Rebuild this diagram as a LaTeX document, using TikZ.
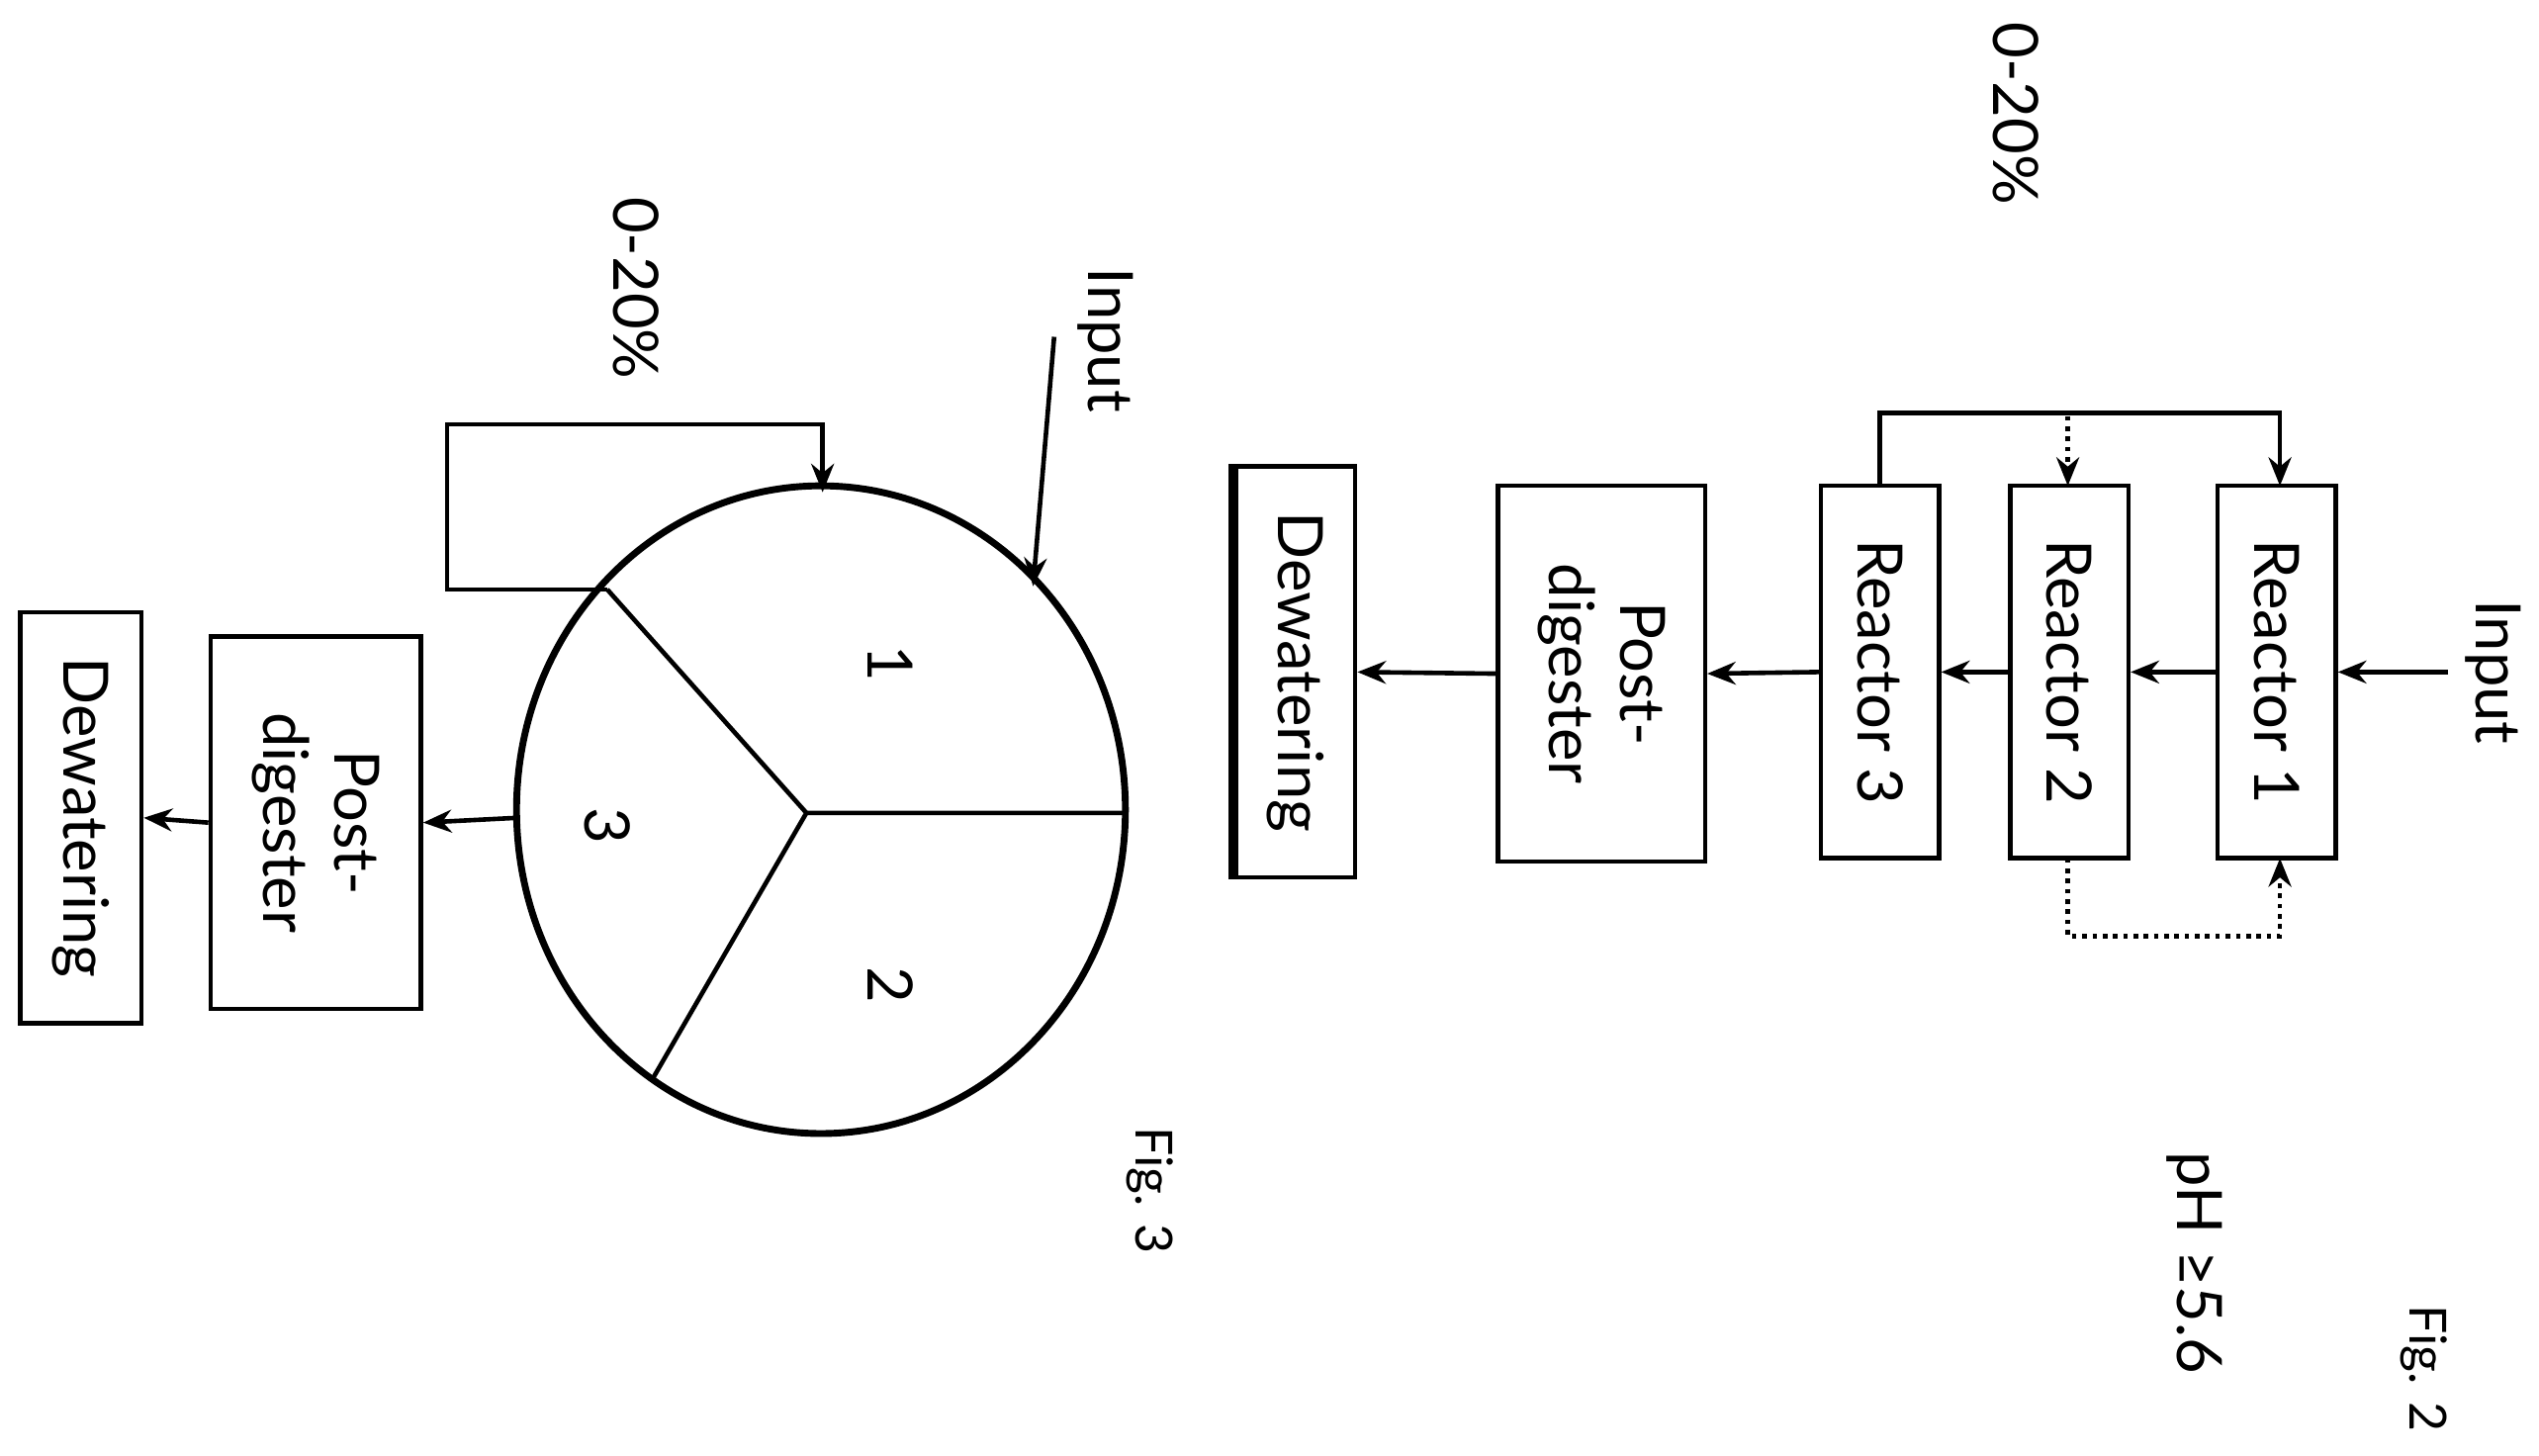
\documentclass[tikz,border=0pt]{standalone}
\usepackage{fontspec}
\setmainfont{Lato}
\usetikzlibrary{arrows.meta}
\begin{document}
\begin{tikzpicture}[x=0.02cm,y=-0.02cm,
  every node/.style={font=\fontsize{22}{25}\selectfont},
  box/.style={draw,line width=1.5pt,rotate=-90,align=center,inner sep=0pt},
  lbl/.style={rotate=-90,inner sep=1pt},
  arr/.style={line width=1.6pt,-{Stealth[length=10pt,width=8pt]}},
  dot/.style={line width=1.6pt,dotted,-{Stealth[length=10pt,width=8pt]}}]
\useasboundingbox (0,0) rectangle (1568,899);
% Fig 2
\node[box,minimum width=4.6cm,minimum height=1.46cm] (r1) at (1406,415) {Reactor 1};
\node[box,minimum width=4.6cm,minimum height=1.46cm] (r2) at (1278,415) {Reactor 2};
\node[box,minimum width=4.6cm,minimum height=1.46cm] (r3) at (1161,415) {Reactor 3};
\node[box,minimum width=4.64cm,minimum height=2.56cm] (pd) at (989,416) {Post-\\digester};
\node[box,minimum width=5.08cm,minimum height=1.48cm] (dw) at (800,415) {Dewatering};
\draw[line width=3.5pt] (dw.south west) -- (dw.south east);
\node[lbl] (in2) at (1540,415) {Input};
\coordinate (in2e) at (1512,415);
\draw[arr] (in2e) -- (r1.north);
\draw[arr] (r1.south) -- (r2.north);
\draw[arr] (r2.south) -- (r3.north);
\draw[arr] (r3.south) -- (pd.north);
\draw[arr] (pd.south) -- (dw.north);
\coordinate (t3) at (1161,300);
\coordinate (t1) at (1408,300);
\draw[arr] (t3) -- (1161,255) -- (1408,255) -- (t1);
\coordinate (t2) at (1277,300);
\draw[dot] (1277,257) -- (t2);
\coordinate (b2) at (1277,530);
\coordinate (b1) at (1408,530);
\draw[dot] (b2) -- (1277,578) -- (1408,578) -- (b1);
\node[lbl] (p2) at (1245,70) {0-20\%};
\node[lbl] (ph) at (1355,780) {pH ≥5.6};
\node[lbl,font=\fontsize{18}{20}\selectfont] (f2) at (1497,845) {Fig. 2};
% Fig 3
\draw[line width=2.4pt] (507,500) ellipse [x radius=188, y radius=200];
\coordinate (c) at (498,502);
\coordinate (ce) at (695,502);
\coordinate (cu) at (375,364);
\coordinate (cl) at (402,668);
\draw[line width=1.6pt] (c) -- (ce) (c) -- (cu) (c) -- (cl);
\node[lbl] (s1) at (550,410) {1};
\node[lbl] (s2) at (550,608) {2};
\node[lbl] (s3) at (375,510) {3};
\node[lbl] (in3) at (683,210) {Input};
\coordinate (in3s) at (651,208);
\coordinate (in3e) at (638,362);
\draw[arr] (in3s) -- (in3e);
\coordinate (ctop) at (508,304);
\draw[arr] (cu) -- (276,364) -- (276,262) -- (508,262) -- (ctop);
\node[lbl] (p3) at (393,178) {0-20\%};
\node[box,minimum width=4.6cm,minimum height=2.6cm] (pd3) at (195,508) {Post-\\digester};
\node[box,minimum width=5.08cm,minimum height=1.5cm] (dw3) at (50,505) {Dewatering};
\coordinate (cw) at (320,505);
\draw[arr] (cw) -- (pd3.north);
\draw[arr] (pd3.south) -- (dw3.north);
\node[lbl,font=\fontsize{18}{20}\selectfont] (f3) at (710,735) {Fig. 3};
\end{tikzpicture}
\end{document}
